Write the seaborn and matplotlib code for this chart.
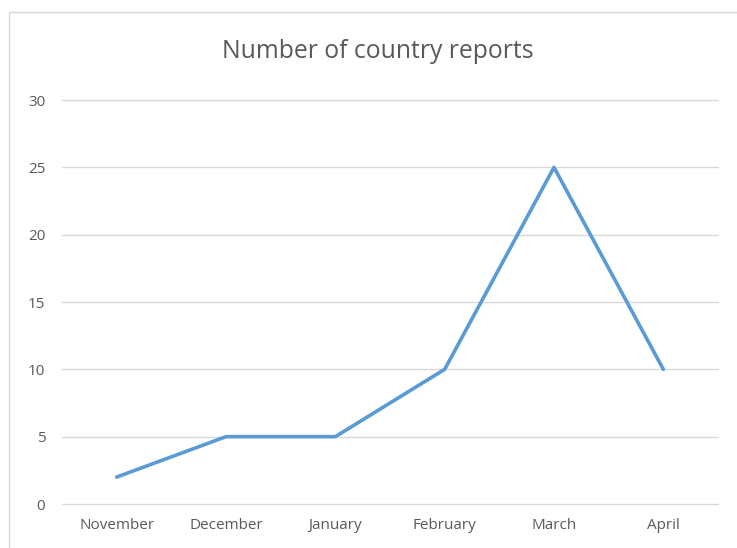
import matplotlib
matplotlib.use("Agg")
import matplotlib.pyplot as plt
import seaborn as sns
import pandas as pd
from matplotlib.patches import Rectangle

months = ["November", "December", "January", "February", "March", "April"]
reports = [2, 5, 5, 10, 25, 10]
yticks = [0, 5, 10, 15, 20, 25, 30]

sns.set_theme(style="white")
plt.rcParams['font.family'] = ['Open Sans', 'DejaVu Sans']

df = pd.DataFrame({"month": months, "reports": reports})

W, H = 737, 548
fig = plt.figure(figsize=(W / 100, H / 100), dpi=100)
ax = fig.add_axes([62 / W, 1 - 504 / H, (718 - 62) / W, (504 - 100) / H])

sns.lineplot(data=df, x="month", y="reports", ax=ax, sort=False,
             color="#5B9BD5", linewidth=2.6, solid_capstyle="round")

ax.set_ylim(0, 30)
ax.set_xlim(-0.5, len(months) - 0.5)
ax.set_yticks(yticks)
ax.set_yticklabels([str(t) for t in yticks])
ax.grid(axis="y", color="#D9D9D9", linewidth=1.0)
for gl in ax.get_ygridlines():
    gl.set_clip_on(False)
ax.set_axisbelow(True)
for s in ax.spines.values():
    s.set_visible(False)
ax.tick_params(axis="both", length=0, colors="#595959", labelsize=11)
ax.tick_params(axis="y", pad=12)
ax.tick_params(axis="x", pad=10)
ax.set_xlabel("")
ax.set_ylabel("")

fig.text(378 / W, 1 - 52 / H, "Number of country reports", ha="center", va="center",
         fontsize=17.8, color="#595959")

fig.patches.append(Rectangle((9 / W, -0.05), 1.1, 1 - 12 / H + 0.05, transform=fig.transFigure,
                             fill=False, edgecolor="#D9D9D9", linewidth=1.0))

fig.savefig("out.png", dpi=100)
